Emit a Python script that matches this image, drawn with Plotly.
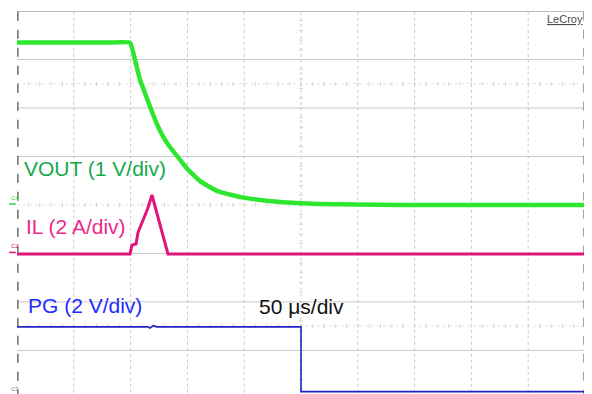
'''
 Scope capture: VOUT discharge, inductor current and power-good
 at 50 us/div (redrawn with plotly)
'''

import plotly.graph_objects as go

# time in microseconds (50 us/div, 10 div)
vout_t = [0, 40, 80, 99.5, 104, 108.3, 112, 115.3, 120, 125.9, 132, 140.8,
          150, 161.1, 176, 190, 202.5, 231.5, 266.7, 300, 337, 420, 500]
vout_v = [3.35, 3.35, 3.35, 3.35, 2.98, 2.58, 2.35, 2.14, 1.85, 1.53, 1.28, 1.01,
          0.74, 0.49, 0.29, 0.20, 0.14, 0.06, 0.02, 0.01, 0.0, 0.0, 0.0]

il_t = [0, 60, 99.5, 101.2, 104.8, 106.5, 110.5, 115, 118.8, 125.9, 132.9, 200, 500]
il_a = [0, 0, 0, 0.37, 0.41, 0.88, 1.32, 1.86, 2.43, 1.24, 0.0, 0.0, 0.0]

pg_t = [0, 115, 117, 120, 123, 200, 250, 250, 350, 500]
pg_v = [2.67, 2.67, 2.62, 2.72, 2.67, 2.67, 2.67, 0.0, 0.0, 0.0]

# channel settings: volts(amps)/div and ground position in divisions
VOUT_SCALE, VOUT_POS = 1.0, 0.0
IL_SCALE, IL_POS = 2.0, -1.01
PG_SCALE, PG_POS = 2.0, -3.85

GRID = '#c9c9c9'
BORDER = '#7a7a7a'

fig = go.Figure()

# --- graticule ---
shapes = []
for k in range(1, 10):
    shapes.append(dict(type='line', x0=k * 50, x1=k * 50, y0=-4, y1=4,
                       line=dict(color=GRID, width=1, dash='dot'), layer='below'))
for k in [-3, -2, -1, 1, 2, 3]:
    shapes.append(dict(type='line', x0=0, x1=500, y0=k, y1=k,
                       line=dict(color=GRID, width=1), layer='below'))
for k in [-2.5, 0, 2.5]:
    shapes.append(dict(type='line', x0=0, x1=500, y0=k, y1=k,
                       line=dict(color='#e2e2e2', width=1, dash='dot'), layer='below'))
shapes.append(dict(type='line', x0=0, x1=500, y0=4, y1=4,
                   line=dict(color='#a8a8a8', width=1.5), layer='below'))
for xb in [0.6, 499.4]:
    shapes.append(dict(type='line', x0=xb, x1=xb, y0=-4, y1=4,
                       line=dict(color=BORDER, width=2, dash='dash'), layer='below'))

# little tick marks on the centre lines
tx, ty = [], []
for k in range(1, 50):
    for yy in [-2.5, 0, 2.5]:
        tx.append(k * 10)
        ty.append(yy)
fig.add_trace(go.Scatter(x=tx, y=ty, mode='markers', hoverinfo='skip',
                         marker=dict(symbol='line-ns-open', size=3, color='#d4d4d4',
                                     line=dict(width=1, color='#d4d4d4'))))
vx, vy = [], []
for k in range(-19, 20):
    vx.append(250)
    vy.append(k * 0.2)
fig.add_trace(go.Scatter(x=vx, y=vy, mode='markers', hoverinfo='skip',
                         marker=dict(symbol='line-ew-open', size=3, color='#d4d4d4',
                                     line=dict(width=1, color='#d4d4d4'))))

# --- traces ---
fig.add_trace(go.Scatter(x=pg_t, y=[PG_POS + v / PG_SCALE for v in pg_v], mode='lines',
                         line=dict(color='#2323c8', width=1.6), hoverinfo='skip'))
fig.add_trace(go.Scatter(x=il_t, y=[IL_POS + a / IL_SCALE for a in il_a], mode='lines',
                         line=dict(color='#e0157c', width=3), hoverinfo='skip'))
fig.add_trace(go.Scatter(x=vout_t, y=[VOUT_POS + v / VOUT_SCALE for v in vout_v], mode='lines',
                         line=dict(color='#2fe62f', width=4.5, shape='spline', smoothing=0.3),
                         hoverinfo='skip'))

# trigger level arrow on the right edge
fig.add_trace(go.Scatter(x=[504], y=[1], mode='markers', cliponaxis=False, hoverinfo='skip',
                         marker=dict(symbol='triangle-left', size=7, color='#2fe62f')))

fnt = 'Liberation Sans, Arial, Helvetica, sans-serif'
ann = [
    dict(x=4.5, y=0.76, text='VOUT (1 V/div)', font=dict(size=21, color='#14aa4c')),
    dict(x=6.5, y=-0.45, text='IL (2 A/div)', font=dict(size=21, color='#ec2a8c')),
    dict(x=8.3, y=-2.08, text='PG (2 V/div)', font=dict(size=21, color='#1f2bff')),
    dict(x=211, y=-2.1, text='50 \u03bcs/div', font=dict(size=21, color='#111111')),
]
for a in ann:
    a.update(xref='x', yref='y', xanchor='left', yanchor='middle', showarrow=False)
    a['font']['family'] = fnt

# channel markers on the left edge (outside the grid, so paper x)
small = [
    dict(y=0.14, text='C4', color='#3ccc3c'),
    dict(y=-0.85, text='C2', color='#e0157c'),
    dict(y=-3.8, text='C3', color='#777777'),
]
for s in small:
    ann.append(dict(x=-0.014, y=s['y'], text=s['text'], xref='paper', yref='y', showarrow=False,
                    xanchor='left', yanchor='middle',
                    font=dict(size=6, color=s['color'], family=fnt)))
shapes.append(dict(type='line', xref='paper', x0=-0.014, x1=-0.002, y0=0.02, y1=0.02,
                   line=dict(color='#3ccc3c', width=1.5)))
shapes.append(dict(type='line', xref='paper', x0=-0.014, x1=-0.002, y0=-0.98, y1=-0.98,
                   line=dict(color='#e0157c', width=1.5)))

ann.append(dict(x=1, y=1, xref='paper', yref='paper', xanchor='right', yanchor='top',
                text='<u>LeCroy</u>', showarrow=False,
                font=dict(size=11, color='#4a4a4a', family=fnt)))

# page body has an 8px margin, so the figure is sized to fill the rest of the window
fig.update_layout(
    width=584, height=386,
    margin=dict(l=9, r=7, t=3, b=0, pad=0),
    plot_bgcolor='white', paper_bgcolor='white',
    showlegend=False,
    shapes=shapes,
    annotations=ann,
    xaxis=dict(range=[0, 500], showgrid=False, zeroline=False, showticklabels=False,
               ticks='', fixedrange=True),
    yaxis=dict(range=[-3.9, 4], showgrid=False, zeroline=False, showticklabels=False,
               ticks='', fixedrange=True),
)

fig.write_html("out.html")
